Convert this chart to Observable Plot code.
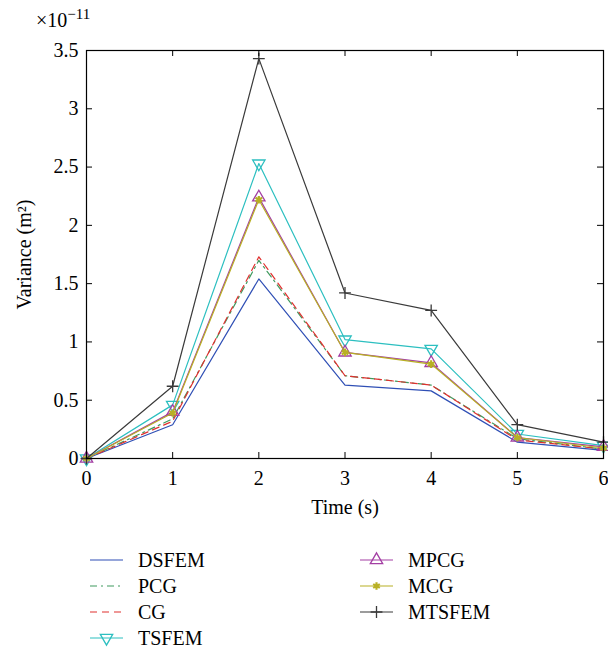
<!DOCTYPE html>
<html><head><meta charset="utf-8">
<script src="https://cdn.jsdelivr.net/npm/d3@7"></script>
<script src="https://cdn.jsdelivr.net/npm/@observablehq/plot@0.6"></script>
<style>
body{margin:0;background:#fff;font-family:"Liberation Serif",serif}
#chart svg{display:block}
</style>
</head><body><div id="chart"></div><script>
const time = [0, 1, 2, 3, 4, 5, 6];
const xTicks = [0, 1, 2, 3, 4, 5, 6];
const yTicks = [0, 0.5, 1, 1.5, 2, 2.5, 3, 3.5];
const DSFEM  = [0, 0.29, 1.54, 0.63, 0.58, 0.14, 0.07];
const PCG    = [0, 0.34, 1.70, 0.71, 0.63, 0.17, 0.08];
const CG     = [0, 0.32, 1.73, 0.71, 0.63, 0.16, 0.08];
const TSFEM  = [0, 0.46, 2.53, 1.02, 0.94, 0.21, 0.11];
const MPCG   = [0, 0.40, 2.24, 0.91, 0.82, 0.18, 0.10];
const MCG    = [0, 0.39, 2.22, 0.91, 0.81, 0.18, 0.09];
const MTSFEM = [0, 0.62, 3.43, 1.42, 1.27, 0.29, 0.14];

const series = [
  {name: "DSFEM",  values: DSFEM,  color: "#2f4fb5", dash: null,     symbol: null},
  {name: "PCG",    values: PCG,    color: "#3f9a5e", dash: "7,4,2,4", symbol: null},
  {name: "CG",     values: CG,     color: "#e0302f", dash: "7,5",    symbol: null},
  {name: "TSFEM",  values: TSFEM,  color: "#2cbfc0", dash: null,     symbol: "triangle", rotate: 180, r: 4.6, fill: "none", sw: 1.3},
  {name: "MPCG",   values: MPCG,   color: "#a33ea3", dash: null,     symbol: "triangle", rotate: 0, r: 4.6, fill: "none", sw: 1.3},
  {name: "MCG",    values: MCG,    color: "#b8b024", dash: null,     symbol: "asterisk", rotate: 0, r: 3.6, fill: "none", sw: 2.2},
  {name: "MTSFEM", values: MTSFEM, color: "#3a3a3a", dash: null,     symbol: "plus", rotate: 0, r: 3.9, fill: "none", sw: 1.3}
];

const W = 608, H = 530, mL = 86, mR = 5, mT = 50, mB = 72;
const plotH = H - mT - mB, plotW = W - mL - mR;
const fs = 20;
const FONT = "Liberation Serif, serif";

const marks = [];
for (const s of series) {
  const data = time.map((t, i) => ({t, v: s.values[i]}));
  marks.push(Plot.line(data, {x: "t", y: "v", stroke: s.color, strokeWidth: 1.2, strokeDasharray: s.dash}));
  if (s.symbol) marks.push(Plot.dot(data, {x: "t", y: "v", symbol: s.symbol, r: s.r, rotate: s.rotate, stroke: s.color, fill: s.fill, strokeWidth: s.sw}));
}

const chart = Plot.plot({
  width: W, height: H,
  marginLeft: mL, marginRight: mR, marginTop: mT, marginBottom: mB,
  style: {fontFamily: FONT, fontSize: fs + "px", color: "#000", background: "#fff"},
  x: {domain: [0, 6]},
  y: {domain: [0, 3.5]},
  marks: [
    ...marks,
    Plot.frame({stroke: "#000", strokeWidth: 1.2}),
    Plot.tickX(xTicks, {x: d => d, insetTop: plotH - 6, stroke: "#000"}),
    Plot.tickX(xTicks, {x: d => d, insetBottom: plotH - 6, stroke: "#000"}),
    Plot.tickY(yTicks, {y: d => d, insetRight: plotW - 6, stroke: "#000"}),
    Plot.tickY(yTicks, {y: d => d, insetLeft: plotW - 6, stroke: "#000"}),
    Plot.axisX({ticks: xTicks, tickSize: 0, tickPadding: 12, fontSize: fs, tickFormat: d => String(d), label: "Time (s)", labelAnchor: "center", labelArrow: "none", labelOffset: 55}),
    Plot.axisY({ticks: yTicks, tickSize: 0, tickPadding: 8, fontSize: fs, tickFormat: d => String(d), label: "Variance (m²)", labelAnchor: "center", labelArrow: "none", labelOffset: 70})
  ]
});

const svg = d3.select(chart);
const mult = svg.append("text").attr("x", 36).attr("y", 27).attr("text-anchor", "start")
  .attr("font-size", 20).attr("fill", "#000").attr("font-family", FONT);
mult.append("tspan").text("×10");
mult.append("tspan").attr("dy", -8).attr("font-size", 15).text("−11");

document.getElementById("chart").appendChild(chart);

// Legend
const leg = d3.select("#chart").append("svg").attr("width", W).attr("height", 652 - H)
  .attr("font-family", FONT).attr("font-size", fs);
const cols = [{x: 90, items: series.slice(0, 4)}, {x: 360, items: series.slice(4)}];
const rowY = [30, 56, 82, 108];
for (const c of cols) {
  c.items.forEach((s, i) => {
    const g = leg.append("g").attr("transform", `translate(${c.x},${rowY[i]})`);
    g.append("line").attr("x1", 0).attr("x2", 33).attr("y1", 0).attr("y2", 0)
      .attr("stroke", s.color).attr("stroke-width", 1.2).attr("stroke-dasharray", s.dash);
    if (s.symbol) {
      const sym = {triangle: d3.symbolTriangle, asterisk: d3.symbolAsterisk, plus: d3.symbolPlus}[s.symbol];
      g.append("path").attr("d", d3.symbol(sym, Math.PI * s.r * s.r)())
        .attr("transform", `translate(16.5,0) rotate(${s.rotate})`)
        .attr("fill", "none").attr("stroke", s.color).attr("stroke-width", s.sw);
    }
    g.append("text").attr("x", 48).attr("y", 7).attr("fill", "#000").text(s.name);
  });
}
</script></body></html>
